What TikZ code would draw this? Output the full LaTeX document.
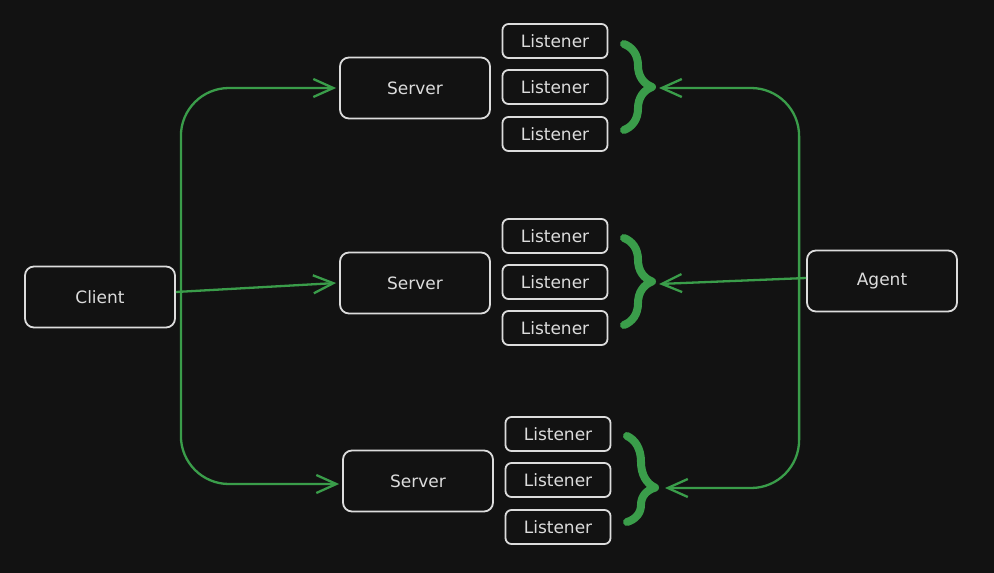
\documentclass[tikz,border=0pt]{standalone}
\usepackage{fontspec}
\setmainfont{DejaVu Sans}
\usetikzlibrary{arrows.meta,positioning,calc,decorations.pathreplacing}
\definecolor{ink}{HTML}{121212}
\definecolor{chalk}{HTML}{DCDCDC}
\definecolor{leaf}{HTML}{3A9D4A}
\tikzset{
  box/.style={draw=chalk,line width=1.8pt,rounded corners=9pt,fill=ink,text=chalk,
              minimum width=150pt,minimum height=61pt,inner sep=0pt},
  lbox/.style={box,rounded corners=6pt,minimum width=105pt,minimum height=34pt},
  link/.style={leaf,line width=2.3pt,-{Straight Barb[length=20pt,width=18pt]}},
  curl/.style={leaf,line width=8pt,line cap=round,line join=round,decorate,
               decoration={brace,amplitude=28pt}}
}

\begin{document}
\begin{tikzpicture}[font=\fontsize{17}{19}\selectfont,x=1pt,y=-1pt]
    \fill[ink] (0,0) rectangle (994,573);
    \useasboundingbox (0,0) rectangle (994,573);

    % main boxes
    \node[box] (client) at (100,297) {Client};
    \node[box] (s1) at (415,88) {Server};
    \node[box] (s2) at (415,283) {Server};
    \node[box] (s3) at (418,481) {Server};
    \node[box] (agent) at (882,281) {Agent};

    % listeners
    \node[lbox] (l11) at (555,41) {Listener};
    \node[lbox] (l12) at (555,87) {Listener};
    \node[lbox] (l13) at (555,134) {Listener};
    \node[lbox] (l21) at (555,236) {Listener};
    \node[lbox] (l22) at (555,282) {Listener};
    \node[lbox] (l23) at (555,328) {Listener};
    \node[lbox] (l31) at (558,434) {Listener};
    \node[lbox] (l32) at (558,480) {Listener};
    \node[lbox] (l33) at (558,527) {Listener};

    % braces
    \draw[curl] (624,44) -- (624,130);
    \draw[curl] (624,238) -- (624,325);
    \draw[curl,decoration={aspect=0.6}] (627,436) -- (627,522);
    \coordinate (tip1) at (659,88);
    \coordinate (tip2) at (659,284);
    \coordinate (tip3) at (665,488);

    % client side
    \draw[link] ([yshift=5pt]client.east) -- ([xshift=-3pt]s2.west);
    \draw[link,rounded corners=48pt] ([xshift=5pt,yshift=5pt]client.east) |- ([xshift=-3pt]s1.west);
    \draw[link,rounded corners=48pt] ([xshift=5pt,yshift=5pt]client.east) |- ([xshift=-3pt,yshift=-3pt]s3.west);

    % agent side
    \draw[link] ([yshift=3pt]agent.west) -- (tip2);
    \draw[link,rounded corners=48pt] ([xshift=-7pt]agent.west) |- (tip1);
    \draw[link,rounded corners=48pt] ([xshift=-7pt]agent.west) |- (tip3);
  \end{tikzpicture}
\end{document}
